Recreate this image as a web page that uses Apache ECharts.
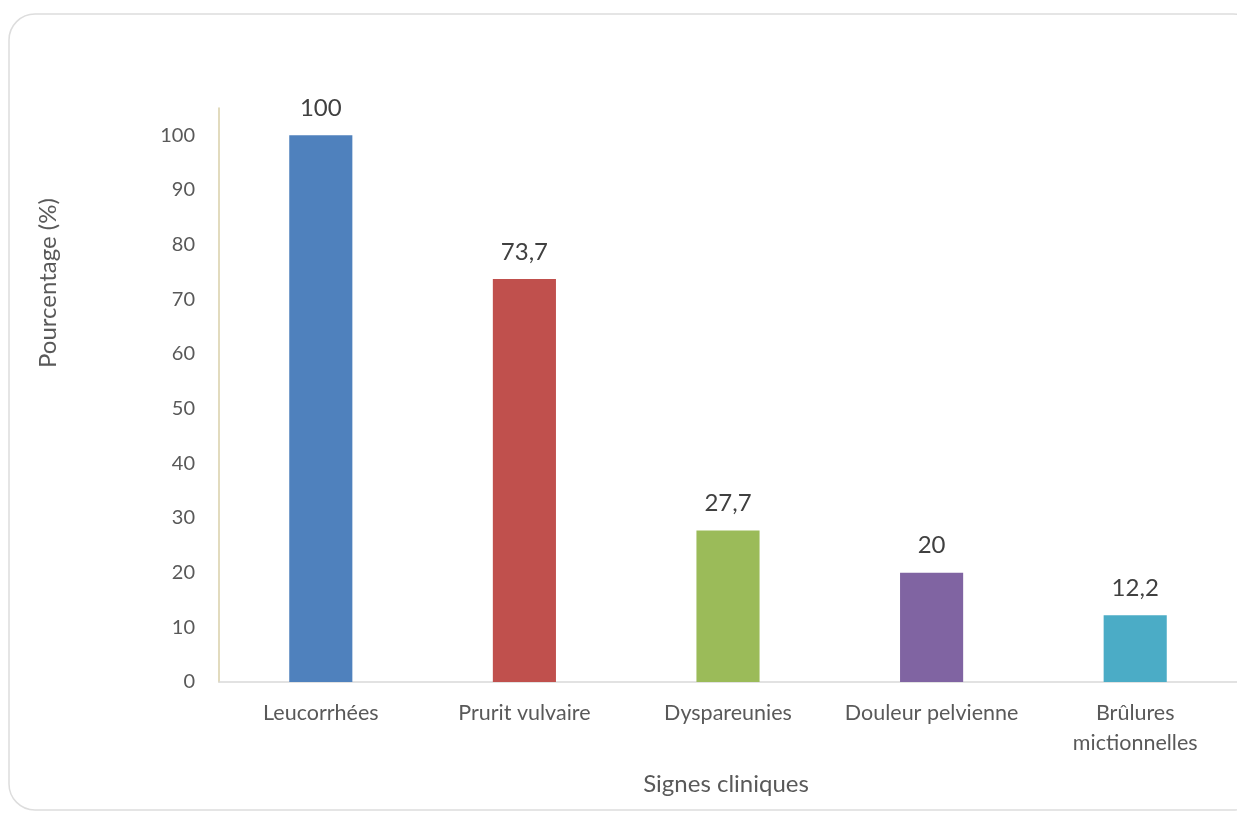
<!DOCTYPE html>
<html>
<head>
<meta charset="utf-8">
<script src="https://cdn.jsdelivr.net/npm/echarts@6/dist/echarts.min.js"></script>
<style>
  html, body { margin: 0; padding: 0; background: #ffffff; }
  #chart { width: 1237px; height: 813px; }
</style>
</head>
<body>
<div id="chart"></div>
<script>
// Signes cliniques observés (%)
const categories = ['Leucorrhées', 'Prurit vulvaire', 'Dyspareunies', 'Douleur pelvienne', 'Brûlures\nmictionnelles'];
const values = [100, 73.7, 27.7, 20, 12.2];
const barColors = ['#4f81bd', '#c0504d', '#9bbb59', '#8064a2', '#4bacc6'];
const yTickInterval = 10;

const font = 'Lato, "Open Sans", sans-serif';
const chart = echarts.init(document.getElementById('chart'), null, { renderer: 'canvas' });

chart.setOption({
  backgroundColor: '#ffffff',
  animation: false,
  graphic: [
    {
      type: 'rect',
      shape: { x: 9, y: 14, width: 1250, height: 796, r: 26 },
      style: { fill: 'none', stroke: '#dddddd', lineWidth: 1.5 },
      z: -1
    },
    {
      type: 'text',
      x: 48, y: 283,
      rotation: Math.PI / 2,
      style: {
        text: 'Pourcentage (%)',
        font: '24px ' + font,
        fill: '#595959',
        textAlign: 'center',
        textVerticalAlign: 'middle'
      }
    },
    {
      type: 'text',
      x: 726, y: 784,
      style: {
        text: 'Signes cliniques',
        font: '24px ' + font,
        fill: '#595959',
        textAlign: 'center',
        textVerticalAlign: 'middle'
      }
    }
  ],
  grid: { left: 219, right: 0, top: 108, bottom: 131, containLabel: false },
  xAxis: {
    type: 'category',
    data: categories,
    axisLine: { lineStyle: { color: '#d9d9d9', width: 1.5 } },
    axisTick: { show: false },
    axisLabel: {
      color: '#595959',
      fontFamily: font,
      fontSize: 21.5,
      lineHeight: 30,
      margin: 16,
      interval: 0
    }
  },
  yAxis: {
    type: 'value',
    min: 0,
    max: 105,
    interval: yTickInterval,
    splitLine: { show: false },
    axisLine: { show: true, lineStyle: { color: '#d8cfa8', width: 1.5 } },
    axisTick: { show: false },
    axisLabel: {
      color: '#595959',
      fontFamily: font,
      fontSize: 20,
      margin: 24,
      showMaxLabel: false,
      formatter: v => (v > 100 ? '' : String(v))
    }
  },
  series: [{
    type: 'bar',
    barWidth: '31%',
    data: values.map((v, i) => ({ value: v, itemStyle: { color: barColors[i] } })),
    label: {
      show: true,
      position: 'top',
      distance: 15,
      color: '#404040',
      fontFamily: font,
      fontSize: 24,
      formatter: p => String(p.value).replace('.', ',')
    }
  }]
});
</script>
</body>
</html>
